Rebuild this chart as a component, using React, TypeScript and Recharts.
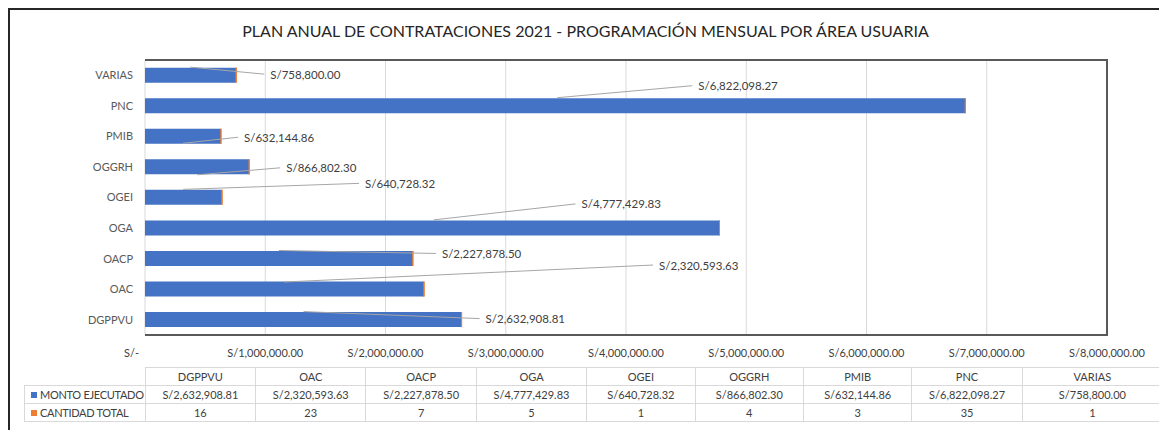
import { Bar, BarChart, CartesianGrid, LabelList, XAxis, YAxis } from "recharts";

const categories = ["DGPPVU", "OAC", "OACP", "OGA", "OGEI", "OGGRH", "PMIB", "PNC", "VARIAS"];
const montoEjecutado = [
  2632908.81, 2320593.63, 2227878.5, 4777429.83, 640728.32, 866802.3, 632144.86, 6822098.27, 758800.0,
];
const cantidadTotal = [16, 23, 7, 5, 1, 4, 3, 35, 1];
const xTicks = [0, 1000000, 2000000, 3000000, 4000000, 5000000, 6000000, 7000000, 8000000];

const title = "PLAN ANUAL DE CONTRATACIONES 2021 - PROGRAMACIÓN MENSUAL POR ÁREA USUARIA";

// where Excel dragged each data label, relative to the bar end / bar middle
const labelOffsets = [
  { dx: 24, dy: -1, lx: -158, ly: -8 },
  { dx: 235, dy: -24, lx: -140, ly: -7 },
  { dx: 29, dy: -5, lx: -134, ly: -8 },
  { dx: -138, dy: -24, lx: -286, ly: -8 },
  { dx: 143, dy: -14, lx: -39, ly: -8 },
  { dx: 37, dy: 1, lx: -52, ly: 8 },
  { dx: 23, dy: 1, lx: -38, ly: 7 },
  { dx: -267, dy: -20, lx: -408, ly: -8 },
  { dx: 34, dy: -1, lx: -46, ly: -8 },
];

const BLUE = "#4472C4";
const ORANGE = "#ED7D31";
const FONT = "Lato, 'Open Sans', sans-serif";

const money = (v: number) =>
  "S/" + v.toLocaleString("en-US", { minimumFractionDigits: 2, maximumFractionDigits: 2 });

const data = categories.map((name, i) => ({
  name,
  monto: montoEjecutado[i],
  cantidad: cantidadTotal[i],
}));

const ValueLabel = (props: any) => {
  const { x, y, width, height, index, value } = props;
  const off = labelOffsets[index];
  if (!off) return null;
  const end = Number(x) + Number(width);
  const cy = Number(y) + Number(height) / 2;
  const tx = end + off.dx;
  const ty = cy + off.dy;
  return (
    <g>
      <line x1={end + off.lx} y1={cy + off.ly} x2={tx - 6} y2={ty} stroke="#a6a6a6" strokeWidth={1} />
      <text x={tx} y={ty} dominantBaseline="central" fontSize={11.5} fill="#404040" fontFamily={FONT}>
        {money(Number(value))}
      </text>
    </g>
  );
};

const XTick = (props: any) => {
  const { x, y, payload } = props;
  const v = payload.value;
  return (
    <text
      x={v === 0 ? x - 6 : x}
      y={y + 17}
      textAnchor={v === 0 ? "end" : "middle"}
      dominantBaseline="central"
      fontSize={11}
      fill="#404040"
      fontFamily={FONT}
    >
      {v === 0 ? "S/-" : money(v)}
    </text>
  );
};

const cell: React.CSSProperties = {
  border: "1px solid #d9d9d9",
  textAlign: "center",
  padding: 0,
  height: 17,
  whiteSpace: "nowrap",
  overflow: "hidden",
};

const colWidth = (i: number) => (i === categories.length - 1 ? 161 : 120);

const App = () => {
  return (
    <div style={{ position: "relative", width: 1155, height: 422, fontFamily: FONT }}>
      <style>{"html,body{overflow:hidden}"}</style>
      <div
        style={{
          position: "absolute",
          left: 0,
          top: 0,
          width: 1155,
          height: 430,
          border: "2px solid #262626",
          boxSizing: "border-box",
        }}
      />
      <div
        style={{
          position: "absolute",
          left: 0,
          top: 13,
          width: 1155,
          textAlign: "center",
          fontSize: 16,
          lineHeight: "20px",
          color: "#262626",
        }}
      >
        {title}
      </div>
      <BarChart
        width={1155}
        height={422}
        data={data}
        layout="vertical"
        margin={{ top: 52, right: 56, bottom: 70, left: 0 }}
        barCategoryGap="25%"
      >
        <CartesianGrid horizontal={false} stroke="#d9d9d9" />
        <XAxis
          type="number"
          domain={[0, 8000000]}
          ticks={xTicks}
          axisLine={false}
          tickLine={false}
          tickSize={0}
          tickMargin={0}
          height={25}
          tick={<XTick />}
          interval={0}
        />
        <YAxis
          type="category"
          dataKey="name"
          reversed
          width={137}
          axisLine={false}
          tickLine={false}
          tickSize={0}
          tickMargin={12}
          tick={{ fontSize: 11, fill: "#595959", fontFamily: FONT }}
          interval={0}
        />
        <Bar dataKey="monto" stackId="a" fill={BLUE} isAnimationActive={false}>
          <LabelList dataKey="monto" content={<ValueLabel />} />
        </Bar>
        <Bar dataKey="cantidad" stackId="a" fill={ORANGE} stroke={ORANGE} strokeWidth={1} isAnimationActive={false} />
      </BarChart>
      <div
        style={{
          position: "absolute",
          left: 137,
          top: 51,
          width: 963,
          height: 277,
          borderTop: "2px solid #595959",
          borderRight: "2px solid #595959",
          borderBottom: "2px solid #595959",
          boxSizing: "border-box",
        }}
      />
      <table
        style={{
          position: "absolute",
          left: 16,
          top: 359,
          borderCollapse: "collapse",
          tableLayout: "fixed",
          fontSize: 11,
          color: "#404040",
          fontFamily: FONT,
        }}
      >
        <colgroup>
          <col style={{ width: 121 }} />
          {categories.map((c, i) => (
            <col key={c} style={{ width: colWidth(i) }} />
          ))}
        </colgroup>
        <tbody>
          <tr>
            <td style={{ ...cell, borderTop: "none", borderLeft: "none" }} />
            {categories.map((c) => (
              <td key={c} style={cell}>
                {c}
              </td>
            ))}
          </tr>
          <tr>
            <td style={{ ...cell, textAlign: "left", letterSpacing: -0.3 }}>
              <span style={{ display: "inline-block", width: 6, height: 6, background: BLUE, margin: "0 3px 1px 6px" }} />
              MONTO EJECUTADO
            </td>
            {montoEjecutado.map((v, i) => (
              <td key={i} style={cell}>
                {money(v)}
              </td>
            ))}
          </tr>
          <tr>
            <td style={{ ...cell, textAlign: "left", letterSpacing: -0.3 }}>
              <span style={{ display: "inline-block", width: 6, height: 6, background: ORANGE, margin: "0 3px 1px 6px" }} />
              CANTIDAD TOTAL
            </td>
            {cantidadTotal.map((v, i) => (
              <td key={i} style={cell}>
                {v}
              </td>
            ))}
          </tr>
        </tbody>
      </table>
    </div>
  );
};

export default App;
